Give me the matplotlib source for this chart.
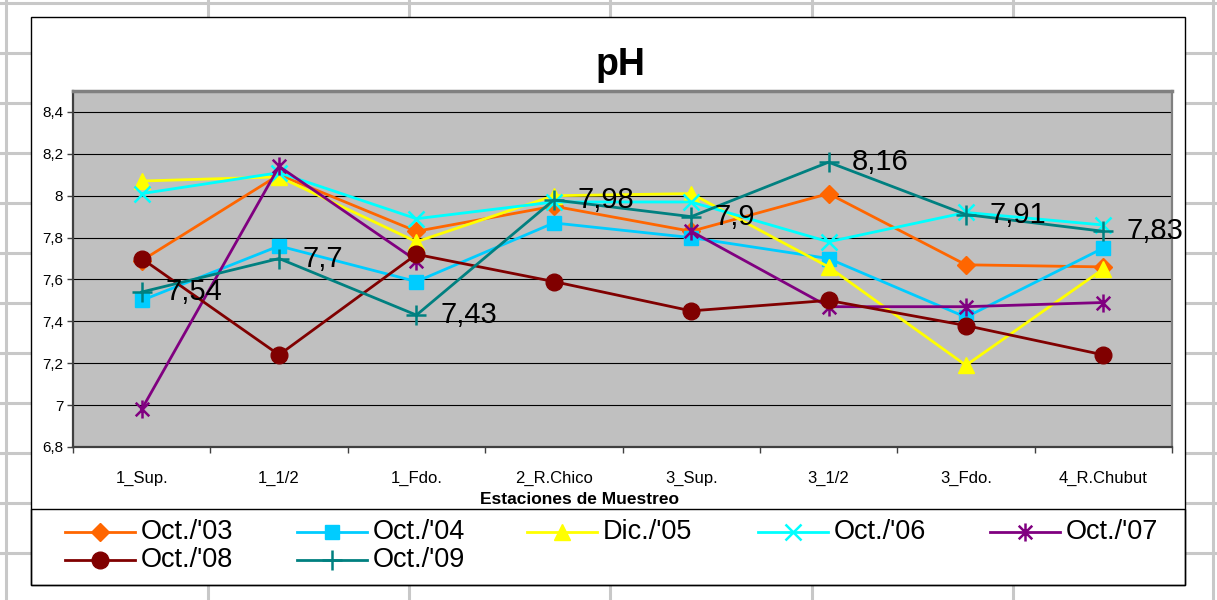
import numpy as np
import matplotlib
matplotlib.use("Agg")
import matplotlib.pyplot as plt
from matplotlib.patches import Rectangle
from matplotlib.path import Path
from matplotlib.ticker import FixedLocator, FuncFormatter

W, H = 1217, 600
ARIAL = ["Liberation Sans", "DejaVu Sans"]

# ------------------------------------------------------------
# DATA
# ------------------------------------------------------------
stations = ["1_Sup.", "1_1/2", "1_Fdo.", "2_R.Chico", "3_Sup.", "3_1/2", "3_Fdo.", "4_R.Chubut"]

oct03 = [7.69, 8.10, 7.83, 7.95, 7.83, 8.01, 7.67, 7.66]
oct04 = [7.50, 7.76, 7.59, 7.87, 7.80, 7.70, 7.42, 7.75]
dic05 = [8.07, 8.09, 7.78, 8.00, 8.01, 7.66, 7.19, 7.65]
oct06 = [8.01, 8.11, 7.89, 7.97, 7.97, 7.78, 7.92, 7.86]
oct07 = [6.98, 8.14, 7.69, np.nan, 7.83, 7.47, 7.47, 7.49]
oct08 = [7.70, 7.24, 7.72, 7.59, 7.45, 7.50, 7.38, 7.24]
oct09 = [7.54, 7.70, 7.43, 7.98, 7.90, 8.16, 7.91, 7.83]

series_names = ["Oct./'03", "Oct./'04", "Dic./'05", "Oct./'06", "Oct./'07", "Oct./'08", "Oct./'09"]
y_ticks = [6.8, 7.0, 7.2, 7.4, 7.6, 7.8, 8.0, 8.2, 8.4]

# excel-like asterisk: vertical bar plus an x
asterisk = Path([(0, -1), (0, 1), (-0.75, -0.75), (0.75, 0.75), (-0.75, 0.75), (0.75, -0.75)],
                [Path.MOVETO, Path.LINETO] * 3)

styles = [
    dict(color="#FF6600", marker="D", ms=9),
    dict(color="#00CCFF", marker="s", ms=10),
    dict(color="#FFFF00", marker="^", ms=11),
    dict(color="#00FFFF", marker="x", ms=11, mew=1.8),
    dict(color="#800080", marker=asterisk, ms=13, mew=1.8),
    dict(color="#800000", marker="o", ms=12),
    dict(color="#008080", marker="+", ms=14, mew=1.8),
]

# legend slots (pixel layout of the excel legend, row by row)
legend_cols = [65, 297, 527, 758, 990]
legend_rows = [532, 560]


def comma(v, pos=None):
    return f"{v:g}".replace(".", ",")


fig = plt.figure(figsize=(W / 100, H / 100), dpi=100)

# ------------------------------------------------------------
# spreadsheet background + chart area
# ------------------------------------------------------------
bg = fig.add_axes([0, 0, 1, 1])
bg.set_xlim(0, W)
bg.set_ylim(H, 0)
bg.axis("off")
for gx in [6, 208, 409, 610, 812, 1013, 1213]:
    bg.axvline(gx, color="#c8c8c8", lw=2.2, zorder=1)
for gy in range(3, 600, 50):
    bg.axhline(gy, color="#c8c8c8", lw=2.2, zorder=1)
bg.add_patch(Rectangle((31, 17), 1154, 568, facecolor="white", edgecolor="black", lw=1, zorder=5))
bg.add_patch(Rectangle((31, 509), 1154, 76, facecolor="none", edgecolor="black", lw=1, zorder=6))

# ------------------------------------------------------------
# plot area
# ------------------------------------------------------------
ax = fig.add_axes([73 / W, (H - 447) / H, (1172 - 73) / W, (447 - 91) / H])
ax.set_facecolor("#c0c0c0")
x = np.arange(len(stations))

all_series = [oct03, oct04, dic05, oct06, oct07, oct08, oct09]
for i, (vals, name, st) in enumerate(zip(all_series, series_names, styles)):
    st = dict(st)
    col = st.pop("color")
    ax.plot(x, vals, color=col, lw=2, mfc=col, mec=col, label=name, **st)
    # legend entry drawn like the excel one
    lx = legend_cols[i % 5]
    ly = legend_rows[i // 5]
    bg.plot([lx, lx + 35, lx + 70], [ly, ly, ly], color=col, lw=2, mfc=col, mec=col,
            markevery=[1], zorder=7, **st)
    bg.text(lx + 76, ly, name, ha="left", va="center", fontsize=19.5, family=ARIAL, zorder=7)

for xi, v in zip(x, oct09):
    ax.annotate(comma(v), (xi, v), xytext=(17, 0), textcoords="offset points",
                ha="left", va="center", fontsize=21, family=ARIAL,
                annotation_clip=False, zorder=10)

ax.set_xlim(-0.5, len(stations) - 0.5)
ax.set_ylim(6.8, 8.5)
ax.yaxis.set_major_locator(FixedLocator(y_ticks))
ax.yaxis.set_major_formatter(FuncFormatter(comma))
ax.grid(axis="y", color="black", lw=0.8)
ax.set_axisbelow(True)

ax.set_xticks(x)
ax.set_xticklabels(stations, family=ARIAL, fontsize=12)
ax.set_xticks(np.arange(-0.5, len(stations)), minor=True)
ax.tick_params(axis="x", which="major", length=0, pad=17)
ax.tick_params(axis="x", which="minor", length=4, width=1, color="#404040", direction="out")
ax.tick_params(axis="y", length=4, width=1, color="#404040", direction="out", pad=3, labelsize=11)
for lab in ax.get_yticklabels():
    lab.set_family(ARIAL)

for side in ["left", "bottom"]:
    ax.spines[side].set_color("#404040")
    ax.spines[side].set_linewidth(1.6)
ax.spines["top"].set_color("#808080")
ax.spines["top"].set_linewidth(2.5)
ax.spines["right"].set_color("#808080")
ax.spines["right"].set_linewidth(1.6)

# titles
fig.text(620 / W, 1 - 75 / H, "pH", ha="center", va="baseline", fontsize=27,
         fontweight="bold", family=ARIAL)
fig.text(580 / W, 1 - 500 / H, "Estaciones de Muestreo", ha="center", va="center",
         fontsize=12.5, fontweight="bold", family=ARIAL)

fig.savefig("out.png", dpi=100)
